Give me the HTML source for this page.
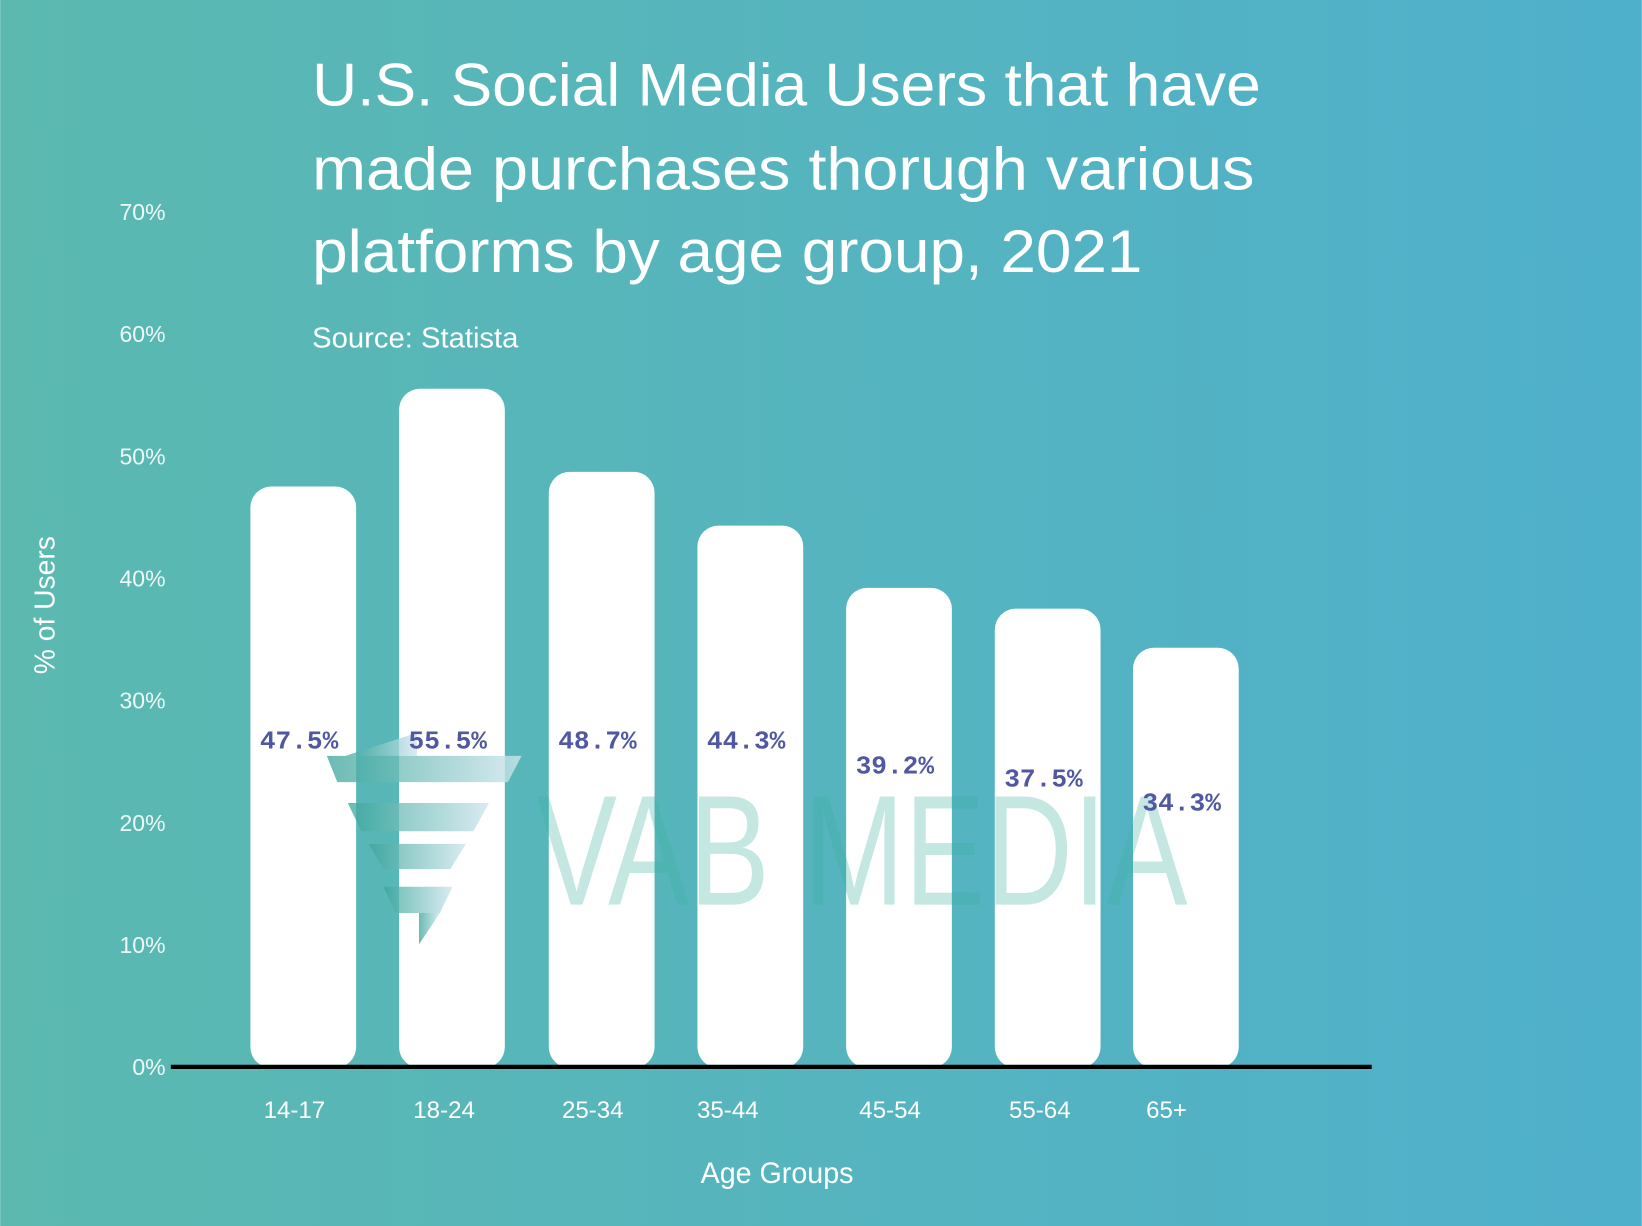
<!DOCTYPE html>
<html><head><meta charset="utf-8"><style>
html,body{margin:0;padding:0;}
body{width:1642px;height:1226px;overflow:hidden;}
svg{display:block;}
text{font-family:"Liberation Sans",sans-serif;}
</style></head><body>
<svg id="chart" width="1642" height="1226" viewBox="0 0 1568 1171" xmlns="http://www.w3.org/2000/svg">
<defs>
<linearGradient id="bg" x1="0" y1="0" x2="1" y2="0">
<stop offset="0" stop-color="#5bb9b0"/><stop offset="1" stop-color="#4fb0cc"/>
</linearGradient>
<linearGradient id="tw" x1="0" y1="0" x2="1" y2="0">
<stop offset="0" stop-color="#3aa59a" stop-opacity="0.75"/><stop offset="1" stop-color="#cfe6ee" stop-opacity="0.8"/>
</linearGradient>
</defs>
<rect x="0" y="0" width="1568" height="1171" fill="url(#bg)"/>
<g fill="#fff" font-size="58">
<text x="298" y="101" textLength="906" lengthAdjust="spacingAndGlyphs">U.S. Social Media Users that have</text>
<text x="298" y="181" textLength="900" lengthAdjust="spacingAndGlyphs">made purchases thorugh various</text>
<text x="298" y="260" textLength="793" lengthAdjust="spacingAndGlyphs">platforms by age group, 2021</text>
</g>
<text x="298" y="332" fill="#fff" font-size="27" textLength="197" lengthAdjust="spacingAndGlyphs">Source: Statista</text>
<text transform="translate(52,578) rotate(-90)" text-anchor="middle" fill="#fff" font-size="27">% of Users</text>
<text x="742" y="1130" text-anchor="middle" fill="#fff" font-size="28" textLength="146" lengthAdjust="spacingAndGlyphs">Age Groups</text>
<g id="yticks"></g>
<g id="bars"></g>
<g id="wm">
<polygon points="312,722 498,722 485,747 322,747" fill="url(#tw)"/>
<polygon points="332,767 467,767 452,794 345,794" fill="url(#tw)"/>
<polygon points="352,806 445,806 430,830 366,830" fill="url(#tw)"/>
<polygon points="366,847 432,847 420,872 378,872" fill="url(#tw)"/>
<polygon points="400,872 420,872 400,902" fill="url(#tw)"/>
<polygon points="330,722 398,700 398,722" fill="url(#tw)"/>
<text x="512" y="864" font-size="150" fill="#3aae9f" fill-opacity="0.3" textLength="622" lengthAdjust="spacingAndGlyphs">VAB MEDIA</text>
</g>
<g id="labels"></g>
<line x1="163" y1="1019" x2="1310" y2="1019" stroke="#000" stroke-width="4"/>
</svg>
<script>
const categories = ["14-17","18-24","25-34","35-44","45-54","55-64","65+"];
const values = [47.5,55.5,48.7,44.3,39.2,37.5,34.3];
const valueLabels = ["47.5%","55.5%","48.7%","44.3%","39.2%","37.5%","34.3%"];
const yTicks = [0,10,20,30,40,50,60,70];
const barLefts = [239,381,524,666,808,950,1082];
const catLabelX = [281,424,566,695,850,993,1114];
const NS="http://www.w3.org/2000/svg";
const base=1019, pxPer=116.7/10;
function y(v){return base - v*pxPer;}
const yt=document.getElementById('yticks');
yTicks.forEach(t=>{
 const el=document.createElementNS(NS,'text');
 
 
 el.setAttribute('x',158);el.setAttribute('y',y(t)+8);
 el.setAttribute('text-anchor','end');el.setAttribute('fill','#eef8f8');el.setAttribute('font-size','22');
 el.textContent=t+'%';yt.appendChild(el);
});
const bg=document.getElementById('bars'), lg=document.getElementById('labels');
categories.forEach((c,i)=>{
 const x=barLefts[i], w=101, top=y(values[i]);
 const r=document.createElementNS(NS,'rect');
 
 
 r.setAttribute('x',x);r.setAttribute('y',top);r.setAttribute('width',w);r.setAttribute('height',base-top+1);
 r.setAttribute('rx',20);r.setAttribute('fill','#fff');bg.appendChild(r);
 const lab=document.createElementNS(NS,'text');
 
 
 lab.setAttribute('x',x+w/2-4);lab.setAttribute('y',715+(42.5-Math.min(values[i],42.5))*7.2);
 lab.setAttribute('text-anchor','middle');lab.setAttribute('fill','#5157a0');lab.setAttribute('font-size','25');
 lab.setAttribute('font-weight','bold');lab.setAttribute('style','font-family:"Liberation Mono",monospace');
 lab.textContent=valueLabels[i];lg.appendChild(lab);
 const cl=document.createElementNS(NS,'text');
 
 
 cl.setAttribute('x',catLabelX[i]);cl.setAttribute('y',1068);cl.setAttribute('text-anchor','middle');
 cl.setAttribute('fill','#fff');cl.setAttribute('font-size','23');
 cl.textContent=c;bg.appendChild(cl);
});
</script>
</body></html>
